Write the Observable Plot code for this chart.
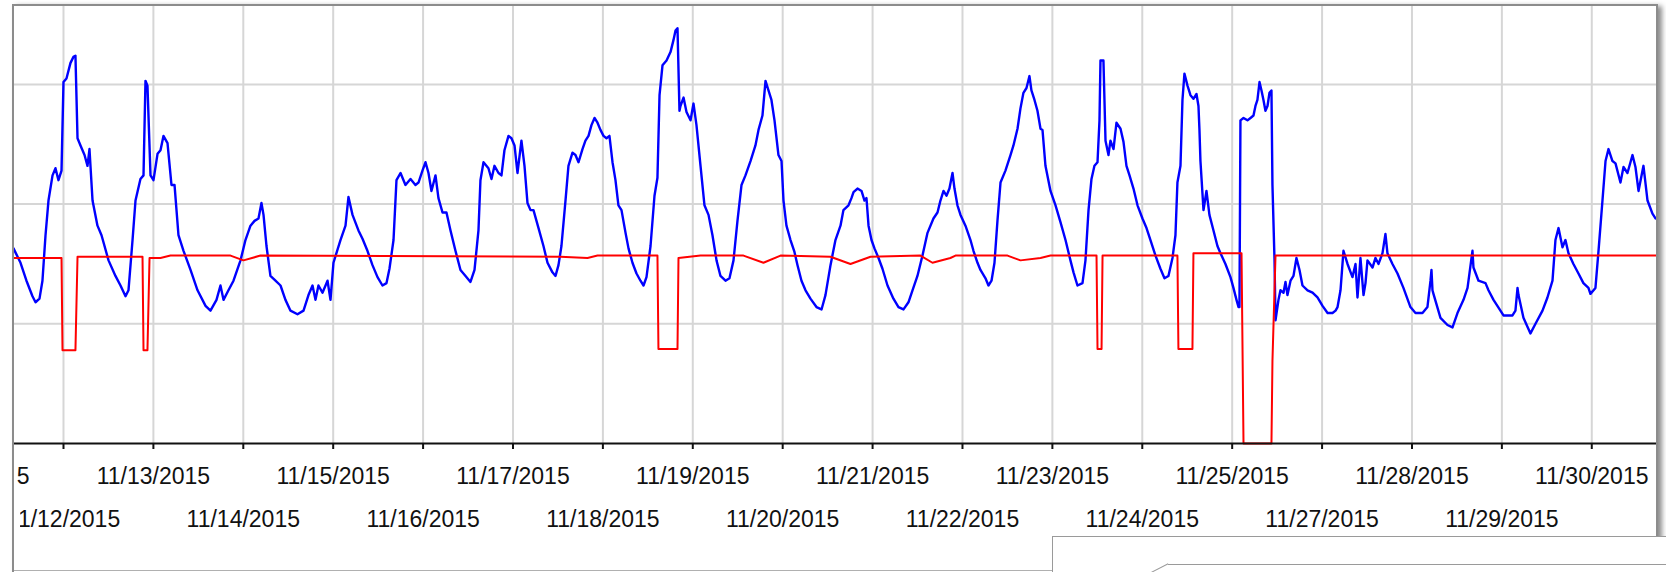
<!DOCTYPE html>
<html><head><meta charset="utf-8">
<script src="https://cdn.jsdelivr.net/npm/d3@7"></script>
<script src="https://cdn.jsdelivr.net/npm/@observablehq/plot@0.6"></script>
<style>
html,body{margin:0;padding:0;background:#fff;}
body{width:1666px;height:572px;position:relative;overflow:hidden;font-family:"Liberation Sans",Arial,sans-serif;}
#panel{position:absolute;left:12px;top:4px;width:1642px;height:568px;border-left:2px solid #8c8c8c;border-top:2px solid #8c8c8c;border-right:2px solid #8c8c8c;overflow:hidden;background:#fff;box-shadow:4px 2px 5px rgba(0,0,0,0.45);}
#panel svg{display:block;}
#cover{position:absolute;left:14px;top:452px;width:3px;height:40px;background:#fff;}
#cover2{position:absolute;left:14px;top:495px;width:6px;height:38px;background:#fff;}
#overlay{position:absolute;left:1052px;top:536px;width:700px;height:60px;border-top:1.5px solid #9a9a9a;border-left:1.5px solid #9a9a9a;background:#fff;}
#inner{position:absolute;left:1168px;top:564px;width:600px;height:0;border-top:1px solid #9a9a9a;}
#diag{position:absolute;left:1151px;top:572px;width:19px;height:0;border-top:1px solid #9a9a9a;transform-origin:0 0;transform:rotate(-27deg);}
#lowline{position:absolute;left:14px;top:570px;width:1038px;height:0;border-top:1px solid #b0b0b0;}
</style>
</head><body>
<div id="panel"></div>
<div id="cover"></div>
<div id="cover2"></div>
<div id="lowline"></div>
<div id="overlay"></div>
<div id="inner"></div>
<div id="diag"></div>
<script>
// Axis positions (day slots) and their labels; 11/26 is not on the axis
const tickPos = [-1,0,1,2,3,4,5,6,7,8,9,10,11,12,13,14,15,16,17];
const tickLabels = ["11/11/2015","11/12/2015","11/13/2015","11/14/2015","11/15/2015","11/16/2015","11/17/2015","11/18/2015","11/19/2015","11/20/2015","11/21/2015","11/22/2015","11/23/2015","11/24/2015","11/25/2015","11/27/2015","11/28/2015","11/29/2015","11/30/2015"];
const gridLevels = [1,2,3];

// Blue series
const blueDay = [-0.556,-0.478,-0.412,-0.345,-0.311,-0.267,-0.234,-0.200,-0.167,-0.122,-0.089,-0.056,-0.022,0.000,0.033,0.078,0.111,0.133,0.156,0.189,0.234,0.267,0.289,0.323,0.378,0.423,0.501,0.578,0.634,0.690,0.723,0.768,0.801,0.856,0.890,0.912,0.934,0.968,1.001,1.046,1.079,1.112,1.157,1.201,1.235,1.279,1.335,1.413,1.491,1.580,1.635,1.702,1.746,1.780,1.835,1.891,1.969,2.024,2.080,2.125,2.169,2.202,2.225,2.258,2.302,2.358,2.414,2.469,2.525,2.603,2.670,2.725,2.770,2.803,2.836,2.881,2.937,2.970,3.003,3.081,3.137,3.170,3.215,3.281,3.326,3.381,3.437,3.493,3.548,3.593,3.626,3.671,3.704,3.749,3.804,3.860,3.915,3.949,3.993,4.027,4.060,4.093,4.138,4.171,4.216,4.260,4.305,4.360,4.416,4.472,4.527,4.572,4.616,4.638,4.672,4.727,4.761,4.794,4.839,4.872,4.905,4.950,4.983,5.017,5.050,5.094,5.128,5.161,5.195,5.228,5.284,5.339,5.384,5.439,5.473,5.506,5.539,5.584,5.617,5.662,5.695,5.729,5.773,5.806,5.840,5.873,5.907,5.940,5.973,6.007,6.040,6.073,6.107,6.140,6.173,6.207,6.252,6.285,6.329,6.374,6.418,6.452,6.485,6.530,6.574,6.607,6.630,6.663,6.708,6.752,6.785,6.808,6.830,6.852,6.863,6.897,6.930,6.975,7.008,7.041,7.086,7.130,7.175,7.219,7.264,7.308,7.364,7.408,7.453,7.497,7.542,7.586,7.642,7.697,7.731,7.775,7.809,7.842,7.875,7.909,7.953,7.987,8.009,8.042,8.087,8.131,8.165,8.209,8.254,8.309,8.376,8.432,8.476,8.532,8.587,8.643,8.676,8.732,8.765,8.788,8.832,8.877,8.910,8.932,8.955,8.988,9.021,9.066,9.110,9.166,9.232,9.288,9.344,9.399,9.444,9.499,9.555,9.611,9.677,9.722,9.755,9.789,9.822,9.855,9.889,9.911,9.944,9.978,10.033,10.089,10.122,10.167,10.200,10.256,10.289,10.323,10.356,10.389,10.423,10.478,10.534,10.567,10.612,10.645,10.678,10.712,10.745,10.767,10.801,10.834,10.868,10.890,10.923,10.979,11.035,11.090,11.146,11.201,11.235,11.279,11.335,11.368,11.402,11.435,11.468,11.502,11.524,11.535,11.568,11.591,11.624,11.646,11.680,11.713,11.758,11.791,11.824,11.858,11.902,11.947,12.002,12.047,12.091,12.147,12.202,12.247,12.291,12.336,12.369,12.391,12.425,12.447,12.469,12.503,12.536,12.569,12.603,12.625,12.636,12.647,12.681,12.714,12.747,12.792,12.836,12.870,12.925,12.981,13.014,13.048,13.070,13.081,13.092,13.126,13.170,13.204,13.237,13.259,13.281,13.304,13.326,13.348,13.370,13.393,13.415,13.437,13.448,13.471,13.482,13.515,13.537,13.571,13.593,13.615,13.649,13.682,13.715,13.749,13.782,13.838,13.894,13.949,14.005,14.061,14.116,14.150,14.172,14.205,14.238,14.283,14.338,14.372,14.394,14.427,14.461,14.483,14.505,14.561,14.594,14.628,14.672,14.705,14.727,14.783,14.839,14.905,14.983,15.039,15.117,15.172,15.206,15.217,15.228,15.239,15.317,15.395,15.451,15.506,15.573,15.618,15.673,15.684,15.740,15.818,15.851,15.907,16.018,16.118,16.151,16.174,16.185,16.240,16.318,16.374,16.452,16.507,16.563,16.596,16.630,16.674,16.707,16.741,16.796,16.852,16.907,16.963,16.985,17.041,17.075,17.119,17.153,17.186,17.230,17.264,17.319,17.353,17.397,17.453,17.486,17.520,17.575,17.620,17.675,17.709];
const blueLevel = [1.63,1.51,1.36,1.23,1.18,1.21,1.36,1.74,2.03,2.24,2.30,2.20,2.28,3.02,3.05,3.18,3.23,3.24,2.55,2.49,2.41,2.32,2.46,2.03,1.82,1.74,1.53,1.40,1.32,1.23,1.28,1.70,2.03,2.21,2.24,3.03,2.99,2.24,2.20,2.42,2.45,2.57,2.51,2.16,2.16,1.74,1.61,1.45,1.28,1.15,1.11,1.20,1.32,1.20,1.28,1.36,1.53,1.70,1.82,1.86,1.88,2.01,1.91,1.65,1.40,1.36,1.32,1.20,1.11,1.08,1.11,1.24,1.32,1.20,1.32,1.26,1.36,1.20,1.51,1.70,1.82,2.06,1.91,1.78,1.71,1.61,1.49,1.39,1.32,1.34,1.46,1.70,2.20,2.26,2.16,2.21,2.16,2.18,2.28,2.35,2.26,2.11,2.24,2.05,1.93,1.93,1.78,1.61,1.45,1.40,1.35,1.45,1.78,2.20,2.35,2.30,2.21,2.32,2.26,2.24,2.45,2.57,2.55,2.49,2.26,2.53,2.32,2.01,1.95,1.95,1.80,1.65,1.51,1.43,1.40,1.49,1.65,2.03,2.32,2.43,2.41,2.35,2.46,2.53,2.57,2.66,2.72,2.68,2.62,2.57,2.55,2.57,2.35,2.20,1.99,1.95,1.76,1.63,1.51,1.42,1.36,1.32,1.39,1.65,2.07,2.22,2.91,3.16,3.20,3.27,3.37,3.45,3.47,2.78,2.82,2.89,2.77,2.70,2.84,2.66,2.32,1.99,1.91,1.74,1.53,1.40,1.36,1.38,1.53,1.86,2.16,2.24,2.36,2.49,2.62,2.74,3.03,2.95,2.87,2.70,2.41,2.36,2.03,1.82,1.70,1.60,1.49,1.36,1.28,1.21,1.14,1.12,1.24,1.49,1.70,1.82,1.95,1.99,2.05,2.10,2.13,2.11,2.03,2.05,1.82,1.70,1.63,1.55,1.46,1.32,1.21,1.14,1.12,1.18,1.28,1.40,1.57,1.76,1.88,1.93,2.03,2.11,2.07,2.13,2.26,2.13,1.99,1.91,1.82,1.70,1.61,1.51,1.45,1.38,1.32,1.36,1.51,1.86,2.18,2.28,2.41,2.49,2.63,2.80,2.93,2.97,3.07,2.95,2.87,2.78,2.63,2.62,2.32,2.11,1.99,1.85,1.70,1.53,1.43,1.32,1.34,1.53,1.95,2.21,2.32,2.35,2.70,3.20,3.20,2.53,2.41,2.53,2.46,2.68,2.63,2.52,2.32,2.24,2.13,1.99,1.88,1.80,1.70,1.57,1.46,1.38,1.40,1.55,1.74,2.18,2.32,2.87,3.09,2.99,2.91,2.88,2.92,2.82,2.62,2.36,1.95,2.11,1.91,1.78,1.65,1.59,1.50,1.39,1.30,1.20,1.14,1.14,2.70,2.72,2.70,2.72,2.74,2.82,2.87,3.02,2.95,2.87,2.78,2.82,2.93,2.95,2.16,1.53,1.03,1.20,1.28,1.26,1.35,1.24,1.36,1.40,1.55,1.45,1.32,1.28,1.26,1.22,1.15,1.09,1.09,1.11,1.14,1.28,1.61,1.50,1.39,1.50,1.22,1.55,1.24,1.34,1.53,1.47,1.55,1.50,1.59,1.75,1.59,1.50,1.42,1.30,1.14,1.09,1.09,1.14,1.36,1.45,1.28,1.25,1.05,0.99,0.97,1.09,1.20,1.30,1.61,1.47,1.36,1.34,1.28,1.20,1.07,1.07,1.11,1.30,1.24,1.05,0.92,1.00,1.11,1.22,1.36,1.70,1.80,1.64,1.70,1.59,1.50,1.42,1.34,1.30,1.25,1.30,1.61,2.03,2.36,2.46,2.36,2.34,2.18,2.31,2.26,2.41,2.31,2.11,2.32,2.03,1.92,1.88];

// Red series
const redDay = [-0.556,-0.022,-0.011,0.133,0.156,0.879,0.890,0.934,0.957,1.079,1.190,1.858,2.002,2.191,5.528,5.829,5.940,6.607,6.618,6.830,6.841,7.086,7.564,7.786,7.976,8.532,8.754,8.977,9.533,9.666,9.866,9.922,10.501,10.645,10.868,10.979,11.491,11.502,11.547,11.558,12.391,12.402,12.558,12.569,13.104,13.126,13.437,13.448,13.482,13.760,17.720];
const redLevel = [1.55,1.55,0.78,0.78,1.56,1.56,0.78,0.78,1.55,1.55,1.57,1.57,1.53,1.57,1.56,1.55,1.57,1.57,0.79,0.79,1.55,1.57,1.57,1.51,1.57,1.56,1.50,1.56,1.57,1.51,1.55,1.57,1.57,1.53,1.55,1.57,1.57,0.79,0.79,1.57,1.57,0.79,0.79,1.59,1.59,0,0,0.69,1.57,1.57,1.57];

const zip = (xs, ys) => xs.slice(0, Math.min(xs.length, ys.length)).map((d, i) => ({day: d, level: ys[i]}));
const blue = zip(blueDay, blueLevel);
const red = zip(redDay, redLevel);
const labelOf = new Map(tickPos.map((p, i) => [p, tickLabels[i]]));
const inside = tickPos.filter(p => p >= 0);
const row1 = tickPos.filter(p => Math.abs(p % 2) === 1);
const row2 = tickPos.filter(p => p % 2 === 0);

const chart = Plot.plot({
  width: 1642, height: 529,
  marginLeft: 0, marginRight: 0, marginTop: 0, marginBottom: 92,
  x: {type: "linear", domain: [-0.545, 17.72], axis: null, label: null},
  y: {type: "linear", domain: [0, 3.651], axis: null, label: null},
  style: {fontFamily: '"Liberation Sans", Arial, sans-serif', fontSize: "23px", background: "#fff", overflow: "hidden"},
  marks: [
    Plot.gridX(inside, {stroke: "#d6d6d6", strokeOpacity: 1, strokeWidth: 2}),
    Plot.gridY(gridLevels, {stroke: "#d6d6d6", strokeOpacity: 1, strokeWidth: 2}),
    Plot.line(blue, {x: "day", y: "level", stroke: "#0000ff", strokeWidth: 2.4, curve: "linear"}),
    Plot.line(red, {x: "day", y: "level", stroke: "#ff0000", strokeWidth: 2, curve: "linear"}),
    Plot.ruleY([0], {stroke: "#111", strokeWidth: 2}),
    Plot.axisX(inside, {tickSize: 6, tickFormat: () => "", stroke: "#111", strokeWidth: 2, label: null}),
    Plot.axisX(row1, {tickSize: 0, tickPadding: 24, tickFormat: d => labelOf.get(d), fill: "#111", fontSize: 23, label: null}),
    Plot.axisX(row2, {tickSize: 0, tickPadding: 67, tickFormat: d => labelOf.get(d), fill: "#111", fontSize: 23, label: null})
  ]
});
document.getElementById("panel").appendChild(chart);
</script>
</body></html>
